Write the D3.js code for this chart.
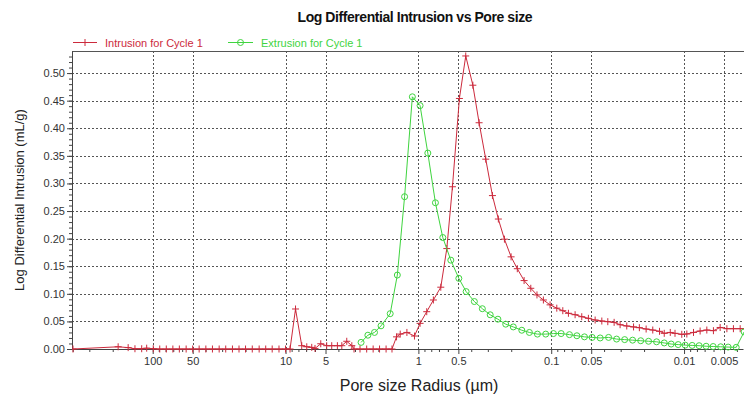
<!DOCTYPE html>
<html>
<head>
<meta charset="utf-8">
<script src="https://cdn.jsdelivr.net/npm/d3@7"></script>
<style>
  body { margin: 0; background: #fff; }
  svg { display: block; font-family: Arial, "Liberation Sans", sans-serif; }
</style>
</head>
<body>
<svg id="chart" width="744" height="403"></svg>
<script>
// Intrusion (cycle 1): pore radius in µm and log differential intrusion in mL/g
const intrusionRadius = [
  398, 182, 153, 136, 121, 111, 99, 88.5, 79, 70.5,
  63, 56, 50, 44.7, 39.8, 35.5, 31.6, 28.2, 25.1, 22.4,
  20, 17.8, 15.8, 14.1, 12.6, 11.2, 10.0, 9.25, 8.41, 7.55,
  6.92, 6.35, 6.0, 5.43, 4.90, 4.49, 4.07, 3.77, 3.46, 3.17,
  3.05, 2.75, 2.45, 2.19, 1.96, 1.75, 1.58, 1.46, 1.37, 1.22,
  1.07, 0.971, 0.865, 0.771, 0.678, 0.611, 0.554, 0.491, 0.440, 0.389,
  0.349, 0.311, 0.277, 0.250, 0.225, 0.2005, 0.180, 0.160, 0.1425, 0.128,
  0.1145, 0.102, 0.0908, 0.0818, 0.0742, 0.0661, 0.0589, 0.0525, 0.0467, 0.0416,
  0.0375, 0.0336, 0.0303, 0.0270, 0.0240, 0.0217, 0.0193, 0.0172, 0.0153, 0.0141,
  0.0127, 0.0117, 0.0104, 0.00953, 0.00849, 0.00757, 0.00674, 0.00601, 0.00535, 0.00476,
  0.00425, 0.00378, 0.0034
];
const intrusionValue = [
  0, 0.004, 0.0025, 0.0005, 0.0005, 0.0015, 0.0005, 0, 0, 0,
  0, 0, 0, 0, 0, 0, 0, 0, 0, 0,
  0, 0, 0, 0, 0, 0, 0, 0, 0.0725, 0.006,
  0.004, 0.003, 0.001, 0.0095, 0.006, 0.006, 0.006, 0.006, 0.014, 0.006,
  0, 0, 0, 0, 0, 0, 0, 0.022, 0.027, 0.030,
  0.0235, 0.0465, 0.0676, 0.0888, 0.112, 0.182, 0.294, 0.454, 0.531, 0.478,
  0.410, 0.344, 0.278, 0.2355, 0.199, 0.167, 0.1455, 0.124, 0.110, 0.098,
  0.0888, 0.080, 0.074, 0.0694, 0.0647, 0.0621, 0.0585, 0.0556, 0.0525, 0.0507,
  0.0495, 0.0483, 0.044, 0.0417, 0.040, 0.0386, 0.0362, 0.0344, 0.032, 0.0284,
  0.030, 0.0284, 0.0266, 0.0272, 0.030, 0.0326, 0.0344, 0.0332, 0.039, 0.0368,
  0.0368, 0.0368, 0.0368
];

// Extrusion (cycle 1)
const extrusionRadius = [
  2.70, 2.40, 2.14, 1.91, 1.63, 1.44, 1.27, 1.11, 0.971, 0.849,
  0.744, 0.655, 0.570, 0.496, 0.437, 0.379, 0.330, 0.288, 0.252, 0.220,
  0.193, 0.1665, 0.146, 0.127, 0.110, 0.0962, 0.0842, 0.0729, 0.0641, 0.0562,
  0.0492, 0.0428, 0.0370, 0.0322, 0.0280, 0.0244, 0.0212, 0.0185, 0.0161, 0.0141,
  0.0125, 0.01107, 0.00981, 0.00869, 0.00770, 0.00682, 0.00604, 0.00530, 0.00466, 0.00405,
  0.00353
];
const extrusionValue = [
  0.012, 0.025, 0.030, 0.042, 0.064, 0.134, 0.276, 0.457, 0.441, 0.355,
  0.265, 0.202, 0.161, 0.128, 0.104, 0.086, 0.073, 0.062, 0.054, 0.045,
  0.040, 0.034, 0.030, 0.027, 0.027, 0.028, 0.028, 0.026, 0.024, 0.022,
  0.021, 0.020, 0.021, 0.018, 0.017, 0.016, 0.015, 0.014, 0.013, 0.011,
  0.009, 0.008, 0.007, 0.0065, 0.006, 0.005, 0.0045, 0.004, 0.0035, 0.003,
  0.031
];

// Axis ticks
const xTickValues = [100, 50, 10, 5, 1, 0.5, 0.1, 0.05, 0.01, 0.005];
const xTickLabels = ["100", "50", "10", "5", "1", "0.5", "0.1", "0.05", "0.01", "0.005"];
const yTickValues = [0, 0.05, 0.10, 0.15, 0.20, 0.25, 0.30, 0.35, 0.40, 0.45, 0.50];
const yMinorValues = d3.range(0, 54).map(i => i / 100);

const seriesNames = ["Intrusion for Cycle 1", "Extrusion for Cycle 1"];
const RED = "#cc2a3c";
const GREEN = "#3fd43f";

const svg = d3.select("#chart");
const plotLeft = 72, plotRight = 743, plotTop = 51, plotBottom = 349;

const x = d3.scaleLog().domain([405, 0.0036]).range([plotLeft, plotRight]);
const y = d3.scaleLinear().domain([0, 0.54]).range([plotBottom, plotTop]);

// Title
svg.append("text")
  .attr("x", 415).attr("y", 22)
  .attr("text-anchor", "middle")
  .attr("font-size", 14).attr("font-weight", "bold")
  .attr("textLength", 235).attr("lengthAdjust", "spacing")
  .attr("fill", "#111")
  .text("Log Differential Intrusion vs Pore size");

// Grid
const grid = svg.append("g").attr("stroke", "#555").attr("stroke-dasharray", "2,2").attr("stroke-width", 1);
grid.selectAll("line.v").data(xTickValues).join("line")
  .attr("x1", d => Math.round(x(d)) + 0.5).attr("x2", d => Math.round(x(d)) + 0.5)
  .attr("y1", plotTop).attr("y2", plotBottom);
grid.selectAll("line.h").data(yTickValues.slice(1)).join("line")
  .attr("x1", plotLeft).attr("x2", plotRight)
  .attr("y1", d => Math.round(y(d)) + 0.5).attr("y2", d => Math.round(y(d)) + 0.5);

// Top frame
svg.append("line")
  .attr("x1", plotLeft).attr("x2", 744).attr("y1", plotTop + 0.5).attr("y2", plotTop + 0.5)
  .attr("stroke", "#555");

// Axes
function styleAxis(g) {
  g.selectAll("path.domain").attr("stroke", "#444");
  g.selectAll(".tick line").attr("stroke", "#444");
  g.selectAll(".tick text").attr("fill", "#333").attr("font-size", 11)
    .attr("font-family", "Arial, 'Liberation Sans', sans-serif");
}

const xMinor = x.ticks().filter(v => !xTickValues.some(t => Math.abs(t - v) / t < 1e-6));
svg.append("g").attr("transform", `translate(0,${plotBottom})`)
  .call(d3.axisBottom(x).tickValues(xMinor).tickSize(3).tickSizeOuter(0).tickFormat(""))
  .call(g => g.select("path.domain").remove())
  .call(styleAxis);
svg.append("g").attr("transform", `translate(0,${plotBottom})`)
  .call(d3.axisBottom(x).tickValues(xTickValues).tickSize(5).tickSizeOuter(0)
    .tickFormat((d, i) => xTickLabels[i]))
  .call(styleAxis);

svg.append("g").attr("transform", `translate(${plotLeft},0)`)
  .call(d3.axisLeft(y).tickValues(yMinorValues).tickSize(3).tickSizeOuter(0).tickFormat(""))
  .call(g => g.select("path.domain").remove())
  .call(styleAxis);
svg.append("g").attr("transform", `translate(${plotLeft},0)`)
  .call(d3.axisLeft(y).tickValues(yTickValues).tickSize(5).tickSizeOuter(0).tickPadding(2)
    .tickFormat(d3.format(".2f")))
  .call(styleAxis);

// Axis titles
svg.append("text")
  .attr("transform", "translate(24,200) rotate(-90)")
  .attr("text-anchor", "middle").attr("font-size", 13).attr("fill", "#222")
  .text("Log Differential Intrusion (mL/g)");
svg.append("text")
  .attr("x", 419).attr("y", 391)
  .attr("text-anchor", "middle").attr("font-size", 16).attr("fill", "#222")
  .text("Pore size Radius (µm)");

// Series
svg.append("clipPath").attr("id", "plotClip")
  .append("rect").attr("x", plotLeft).attr("y", plotTop - 6)
  .attr("width", plotRight - plotLeft + 1).attr("height", plotBottom - plotTop + 12);

const plot = svg.append("g").attr("clip-path", "url(#plotClip)");
const line = d3.line().x(d => x(d[0])).y(d => y(d[1]));

const intrusion = intrusionRadius.map((r, i) => [r, intrusionValue[i]]);
const extrusion = extrusionRadius.map((r, i) => [r, extrusionValue[i]]);

plot.append("path").datum(intrusion).attr("d", line)
  .attr("fill", "none").attr("stroke", RED).attr("stroke-width", 1);
plot.append("g").selectAll("path").data(intrusion).join("path")
  .attr("d", d => `M${x(d[0]) - 3.5},${y(d[1])}h7M${x(d[0])},${y(d[1]) - 3.5}v7`)
  .attr("stroke", RED).attr("stroke-width", 1).attr("fill", "none");

plot.append("path").datum(extrusion).attr("d", line)
  .attr("fill", "none").attr("stroke", GREEN).attr("stroke-width", 1);
plot.append("g").selectAll("circle").data(extrusion).join("circle")
  .attr("cx", d => x(d[0])).attr("cy", d => y(d[1])).attr("r", 3)
  .attr("stroke", GREEN).attr("stroke-width", 1).attr("fill", "none");

// Legend
const legend = svg.append("g");
legend.append("line").attr("x1", 73).attr("x2", 97).attr("y1", 42.5).attr("y2", 42.5).attr("stroke", RED);
legend.append("path").attr("d", "M85,39v7").attr("stroke", RED);
legend.append("text").attr("x", 105).attr("y", 46.5).attr("font-size", 11).attr("fill", RED).text(seriesNames[0]);
legend.append("line").attr("x1", 228).attr("x2", 253).attr("y1", 42.5).attr("y2", 42.5).attr("stroke", GREEN);
legend.append("circle").attr("cx", 240.5).attr("cy", 42.5).attr("r", 3).attr("stroke", GREEN).attr("fill", "none");
legend.append("text").attr("x", 261).attr("y", 46.5).attr("font-size", 11).attr("fill", GREEN).text(seriesNames[1]);
</script>
</body>
</html>
